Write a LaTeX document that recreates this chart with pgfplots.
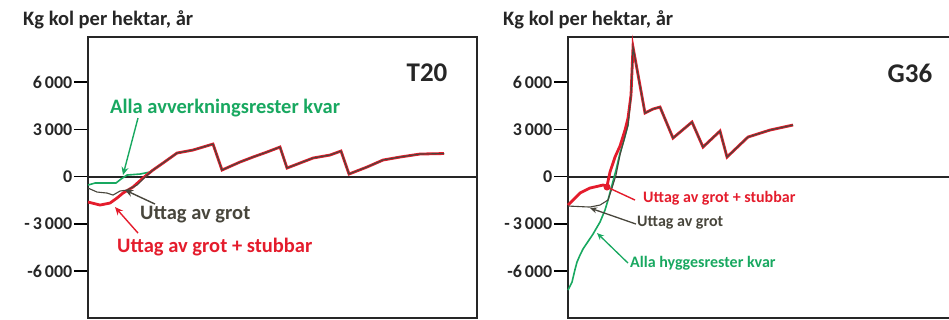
\documentclass[border=0pt]{standalone}
\usepackage{pgfplots}
\pgfplotsset{compat=1.18}
\usepackage{fontspec}
\setmainfont{Carlito}
\usetikzlibrary{arrows.meta}
\definecolor{cgreen}{RGB}{24,168,96}
\definecolor{cred}{RGB}{228,28,44}
\definecolor{cgrey}{RGB}{72,70,60}

\pgfplotstableread{
x v
0 -1619
12 -1810
22 -1683
29 -1365
35 -1048
45 -667
55 -95
65 413
75 857
89 1492
105 1683
125 2063
134 413
152 921
165 1238
179 1556
192 1873
199 540
212 857
225 1175
242 1365
253 1619
261 159
279 603
295 1048
312 1238
332 1429
356 1460
}\leftred
\pgfplotstableread{
x v
0 -730
9 -984
19 -1048
25 -1175
32 -921
39 -857
49 -540
55 -159
65 413
75 857
89 1492
105 1683
125 2063
134 413
152 921
165 1238
179 1556
192 1873
199 540
212 857
225 1175
242 1365
253 1619
261 159
279 603
295 1048
312 1238
332 1429
356 1460
}\leftgrey
\pgfplotstableread{
x v
0 -540
7 -413
28 -413
33 -159
39 95
52 159
62 286
65 413
75 857
89 1492
105 1683
125 2063
134 413
152 921
165 1238
179 1556
192 1873
199 540
212 857
225 1175
242 1365
253 1619
261 159
279 603
295 1048
312 1238
332 1429
356 1460
}\leftgreen

\pgfplotstableread{
x v
0 -1810
12 -1048
22 -730
35 -540
39 -603
42 286
47 1238
52 1937
57 2952
60 3714
63 5175
65 8222
77 4032
85 4286
92 4413
105 2444
124 3460
135 1873
152 2889
159 1238
180 2508
202 2952
225 3270
}\rightred
\pgfplotstableread{
x v
0 -1873
22 -1937
32 -1810
40 -1492
44 -730
48 95
52 1365
56 2317
60 3270
63 5175
65 8222
77 4032
85 4286
92 4413
105 2444
124 3460
135 1873
152 2889
159 1238
180 2508
202 2952
225 3270
}\rightgrey
\pgfplotstableread{
x v
0 -7206
4 -6700
7 -5900
9 -5429
12 -4984
15 -4600
19 -4222
25 -3651
32 -2889
37 -2127
40 -1492
44 -540
48 413
52 1492
56 2317
60 3270
63 5175
65 8222
77 4032
85 4286
92 4413
105 2444
124 3460
135 1873
152 2889
159 1238
180 2508
202 2952
225 3270
}\rightgreen

\pgfplotsset{
  panel/.style={
    scale only axis,
    anchor=south west,
    height=281pt,
    ymin=-8980, ymax=8860,
    xmin=0,
    xtick=\empty,
    ytick={-6000,-3000,0,3000,6000},
    yticklabels={-6\,000,-\,3\,000,0,3\,000,6\,000},
    ytick pos=left,
    tick align=outside,
    major tick length=14pt,
    tick style={black, line width=1.5pt},
    yticklabel style={font=\bfseries\fontsize{18}{18}\selectfont, inner sep=1.5pt, text=black!85},
    axis line style={black!85, line width=1.6pt},
    clip=false,
  }
}

\begin{document}
\begin{tikzpicture}[x=1pt,y=1pt]
% ---------- left panel ----------
\begin{axis}[panel, at={(88pt,2pt)}, width=389pt, xmax=389]
\draw[black!85, line width=2pt] (axis cs:0,0) -- (axis cs:389,0);
\addplot[cgreen, line width=1.6pt] table[x=x,y=v] {\leftgreen};
\addplot[cred, line width=2.8pt] table[x=x,y=v] {\leftred};
\addplot[cgrey, line width=1.1pt] table[x=x,y=v] {\leftgrey};
\node[font=\bfseries\fontsize{27}{27}\selectfont, text=black!85] at (axis cs:339,6571) {T20};
\draw[cgreen, line width=1.4pt, -{Stealth[length=8pt,width=7pt]}] (axis cs:50,3714) -- (axis cs:35,95);
\node[anchor=west, inner sep=0pt, text=cgreen, font=\bfseries\fontsize{20.5}{20.5}\selectfont] at (axis cs:22,4349) {Alla avverkningsrester kvar};
\draw[cgrey, line width=1.4pt, -{Stealth[length=8pt,width=7pt]}] (axis cs:67,-1746) -- (axis cs:37,-857);
\node[anchor=west, inner sep=0pt, text=cgrey, font=\bfseries\fontsize{20.5}{20.5}\selectfont] at (axis cs:52,-2444) {Uttag av grot};
\draw[cred, line width=1.4pt, -{Stealth[length=8pt,width=7pt]}] (axis cs:50,-3587) -- (axis cs:27,-1937);
\node[anchor=west, inner sep=0pt, text=cred, font=\bfseries\fontsize{20.5}{20.5}\selectfont] at (axis cs:29,-4476) {Uttag av grot + stubbar};
\end{axis}
% ---------- right panel ----------
\begin{axis}[panel, at={(568pt,2pt)}, width=392pt, xmax=392]
\draw[black!85, line width=2pt] (axis cs:0,0) -- (axis cs:392,0);
\addplot[cgreen, line width=1.6pt] table[x=x,y=v] {\rightgreen};
\addplot[cred, line width=2.8pt] table[x=x,y=v] {\rightred};
\addplot[cgrey, line width=1.1pt] table[x=x,y=v] {\rightgrey};
\node[font=\bfseries\fontsize{27}{27}\selectfont, text=black!85] at (axis cs:342,6571) {G36};
\fill[cred] (axis cs:39,-667) circle[radius=3.5pt];
\draw[cred, line width=1.4pt] (axis cs:39,-667) -- (axis cs:67,-1492);
\node[anchor=west, inner sep=0pt, text=cred, font=\bfseries\fontsize{16}{16}\selectfont] at (axis cs:75,-1365) {Uttag av grot + stubbar};
\draw[cgrey, line width=1.3pt, -{Stealth[length=7pt,width=6pt]}] (axis cs:68,-3016) -- (axis cs:22,-2000);
\node[anchor=west, inner sep=0pt, text=cgrey, font=\bfseries\fontsize{16}{16}\selectfont] at (axis cs:69,-2952) {Uttag av grot};
\draw[cgreen, line width=1.3pt, -{Stealth[length=7pt,width=6pt]}] (axis cs:60,-5492) -- (axis cs:29,-3587);
\node[anchor=west, inner sep=0pt, text=cgreen, font=\bfseries\fontsize{16}{16}\selectfont] at (axis cs:62,-5492) {Alla hyggesrester kvar};
\end{axis}
% titles
\node[anchor=west, inner sep=0pt, font=\bfseries\fontsize{20.5}{20.5}\selectfont, text=black!85] at (23pt,300pt) {Kg kol per hektar, år};
\node[anchor=west, inner sep=0pt, font=\bfseries\fontsize{20.5}{20.5}\selectfont, text=black!85] at (503pt,300pt) {Kg kol per hektar, år};
\pgfresetboundingbox
\useasboundingbox (0pt,0pt) rectangle (949pt,320pt);
\end{tikzpicture}
\end{document}
